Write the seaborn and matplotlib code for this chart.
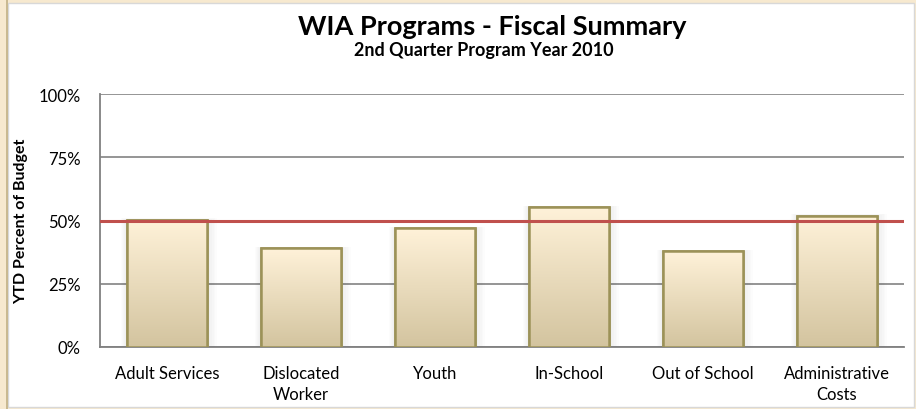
import matplotlib
matplotlib.use("Agg")
import matplotlib.pyplot as plt
import numpy as np
import pandas as pd
import seaborn as sns
from matplotlib.colors import LinearSegmentedColormap
from matplotlib.patches import Rectangle
from matplotlib.ticker import PercentFormatter

# data
programs = ["Adult Services", "Dislocated\nWorker", "Youth", "In-School",
            "Out of School", "Administrative\nCosts"]
ytd_pct = [50.2, 39.0, 46.9, 55.2, 37.8, 51.9]
target_pct = 50
y_ticks = [0, 25, 50, 75, 100]

df = pd.DataFrame({"program": programs, "pct": ytd_pct})

sns.set_style("white")
plt.rcParams["font.family"] = ["Lato", "DejaVu Sans"]
plt.rcParams["text.color"] = "black"
plt.rcParams["axes.labelcolor"] = "black"

fig = plt.figure(figsize=(9.16, 4.10), dpi=100)
fig.patch.set_facecolor("#f7e9cf")
# white chart area with the cream strip left and top
fig.patches.append(Rectangle((8 / 916, 2 / 410), 906 / 916, 404 / 410,
                             transform=fig.transFigure, facecolor="white",
                             edgecolor="#d8d8d8", lw=1, zorder=-10))
fig.patches.append(Rectangle((6 / 916, 0), 1.5 / 916, 1,
                             transform=fig.transFigure, facecolor="#c9b991",
                             edgecolor="none", zorder=-10))

ax = fig.add_axes([100 / 916, 62 / 410, 804 / 916, 253 / 410])
ax.set_facecolor("none")

sns.barplot(data=df, x="program", y="pct", color="#e8dcbc", width=0.6,
            edgecolor="#9c9258", linewidth=1.8, ax=ax, zorder=3)

# gradient fill + soft shadow for each bar
cmap = LinearSegmentedColormap.from_list("tan", ["#d3c49f", "#fff2d9"])
grad = np.linspace(0, 1, 256).reshape(-1, 1)
for bar in list(ax.patches):
    x0, w, h = bar.get_x(), bar.get_width(), bar.get_height()
    for k in range(1, 7):
        pad = 0.012 * k
        ax.add_patch(Rectangle((x0 - pad * 0.6, -pad * 20), w + pad * 1.6, h + pad * 30,
                               facecolor="black", edgecolor="none", alpha=0.012, zorder=2))
    im = ax.imshow(grad, cmap=cmap, aspect="auto", origin="lower",
                   extent=(x0, x0 + w, 0, h), zorder=3.5)
    im.set_clip_path(bar)
    edge = Rectangle((x0, 0), w, h, facecolor="none", edgecolor="#9c9258",
                     lw=1.8, zorder=4)
    ax.add_patch(edge)

ax.axhline(target_pct, color="#c0504d", lw=2.2, zorder=5)

ax.set_xlim(-0.5, len(programs) - 0.5)
ax.set_ylim(0, 100)
ax.set_yticks(y_ticks)
ax.yaxis.set_major_formatter(PercentFormatter(decimals=0))
ax.grid(axis="y", color="#8c8c8c", lw=1.3, zorder=1)
ax.set_axisbelow(True)

for side in ["top", "right"]:
    ax.spines[side].set_visible(False)
for side in ["left", "bottom"]:
    ax.spines[side].set_color("#808080")
    ax.spines[side].set_linewidth(1.3)
    ax.spines[side].set_zorder(2.5)

ax.tick_params(axis="y", length=0, pad=14, labelsize=12, labelcolor="black")
ax.tick_params(axis="x", length=0, pad=13, labelsize=12, labelcolor="black")
for lbl in ax.get_xticklabels():
    lbl.set_linespacing(1.35)
ax.set_xlabel("")
ax.set_ylabel("YTD Percent of Budget", fontsize=11.5, fontweight="bold", color="black")
ax.yaxis.set_label_coords(-72 / 804, 0.5)

fig.text(492 / 916, 1 - 35 / 410, "WIA Programs - Fiscal Summary", ha="center",
         va="baseline", fontsize=19.5, fontweight="bold", color="black")
fig.text(484 / 916, 1 - 56 / 410, "2nd Quarter Program Year 2010", ha="center",
         va="baseline", fontsize=13, fontweight="bold", color="black")

fig.savefig("out.png", dpi=100, facecolor=fig.get_facecolor())
